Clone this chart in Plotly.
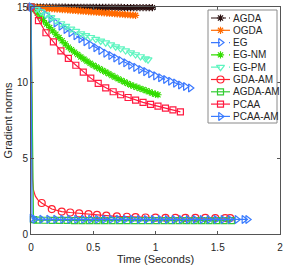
import plotly.graph_objects as go

# ---------------- data ----------------
names = ["AGDA", "OGDA", "EG", "EG-NM", "EG-PM", "GDA-AM", "AGDA-AM", "PCAA", "PCAA-AM"]

t_agda = [0.000, 0.025, 0.050, 0.075, 0.100, 0.125, 0.150, 0.175, 0.200, 0.225,
          0.250, 0.275, 0.300, 0.325, 0.350, 0.375, 0.400, 0.425, 0.450, 0.475,
          0.500, 0.525, 0.550, 0.575, 0.600, 0.625, 0.650, 0.675, 0.700, 0.725,
          0.750, 0.775, 0.800, 0.825, 0.850, 0.875, 0.900, 0.925, 0.950, 0.975]
g_agda = [15.00, 15.00, 15.00, 15.00, 14.99, 14.99, 14.99, 14.99, 14.99, 14.99,
          14.99, 14.99, 14.98, 14.98, 14.98, 14.98, 14.98, 14.98, 14.98, 14.98,
          14.98, 14.97, 14.97, 14.97, 14.97, 14.97, 14.97, 14.97, 14.97, 14.97,
          14.96, 14.96, 14.96, 14.96, 14.96, 14.96, 14.96, 14.96, 14.96, 14.96]

t_ogda = [0.000, 0.021, 0.042, 0.063, 0.084, 0.105, 0.126, 0.147, 0.168, 0.189,
          0.210, 0.231, 0.252, 0.273, 0.294, 0.315, 0.336, 0.357, 0.378, 0.399,
          0.420, 0.441, 0.462, 0.483, 0.504, 0.525, 0.546, 0.567, 0.588, 0.609,
          0.630, 0.651, 0.672, 0.693, 0.714, 0.735, 0.756, 0.777, 0.798, 0.819, 0.840]
g_ogda = [15.00, 14.99, 14.97, 14.96, 14.94, 14.93, 14.92, 14.90, 14.89, 14.88,
          14.86, 14.85, 14.83, 14.82, 14.81, 14.79, 14.78, 14.77, 14.75, 14.74,
          14.72, 14.71, 14.70, 14.68, 14.67, 14.66, 14.64, 14.63, 14.61, 14.60,
          14.59, 14.57, 14.56, 14.55, 14.53, 14.52, 14.50, 14.49, 14.48, 14.46, 14.45]

t_eg = [0.00, 0.04, 0.08, 0.12, 0.16, 0.20, 0.24, 0.28, 0.32, 0.36, 0.40,
        0.44, 0.48, 0.52, 0.56, 0.60, 0.64, 0.68, 0.72, 0.76, 0.80, 0.84,
        0.88, 0.92, 0.96, 1.00, 1.04, 1.08, 1.12, 1.16, 1.20, 1.24, 1.28]
g_eg = [15.00, 14.88, 14.70, 14.47, 14.22, 13.95, 13.73, 13.51, 13.30, 13.10, 12.90,
        12.70, 12.50, 12.31, 12.13, 11.95, 11.79, 11.63, 11.47, 11.31, 11.15, 11.01,
        10.87, 10.73, 10.59, 10.45, 10.33, 10.21, 10.09, 9.97, 9.85, 9.75, 9.65]

t_egnm = [0.000, 0.025, 0.050, 0.075, 0.100, 0.125, 0.150, 0.175, 0.200, 0.225,
          0.250, 0.275, 0.300, 0.325, 0.350, 0.375, 0.400, 0.425, 0.450, 0.475,
          0.500, 0.525, 0.550, 0.575, 0.600, 0.625, 0.650, 0.675, 0.700, 0.725,
          0.750, 0.775, 0.800, 0.825, 0.850, 0.875, 0.900, 0.925, 0.950, 0.975,
          1.000, 1.020]
g_egnm = [15.00, 14.82, 14.60, 14.35, 14.10, 13.87, 13.64, 13.42, 13.20, 12.98,
          12.77, 12.56, 12.35, 12.18, 12.02, 11.86, 11.70, 11.56, 11.42, 11.28,
          11.15, 11.04, 10.92, 10.81, 10.70, 10.59, 10.47, 10.36, 10.25, 10.15,
          10.05, 9.95, 9.85, 9.77, 9.70, 9.62, 9.55, 9.47, 9.39, 9.31,
          9.24, 9.20]

t_egpm = [0.00, 0.04, 0.08, 0.12, 0.16, 0.20, 0.24, 0.28, 0.32, 0.36, 0.40,
          0.44, 0.48, 0.52, 0.56, 0.60, 0.64, 0.68, 0.72, 0.76, 0.80, 0.84,
          0.88, 0.92, 0.94]
g_egpm = [15.00, 14.86, 14.69, 14.50, 14.31, 14.10, 13.91, 13.73, 13.56, 13.40, 13.25,
          13.12, 13.00, 12.88, 12.76, 12.64, 12.51, 12.38, 12.25, 12.12, 11.99, 11.86,
          11.73, 11.59, 11.52]

t_gdaam = [0.000, 0.004, 0.008, 0.012, 0.020, 0.035, 0.055, 0.086, 0.167, 0.247,
           0.315, 0.387, 0.462, 0.530, 0.605, 0.690, 0.770, 0.840, 0.920, 1.000,
           1.080, 1.160, 1.240, 1.320, 1.400, 1.480, 1.560, 1.600]
g_gdaam = [15.00, 9.50, 5.50, 3.60, 2.90, 2.50, 2.25, 2.05, 1.65, 1.48,
           1.42, 1.36, 1.31, 1.26, 1.22, 1.17, 1.14, 1.11, 1.09, 1.08,
           1.07, 1.07, 1.06, 1.06, 1.06, 1.05, 1.05, 1.05]
shown_gdaam = [1, 0, 0, 0, 0, 0, 0, 1, 1, 1,
               1, 1, 1, 1, 1, 1, 1, 1, 1, 1,
               1, 1, 1, 1, 1, 1, 1, 1]

t_agdaam = [0.00, 0.02, 0.05, 0.11, 0.17, 0.23, 0.29, 0.35, 0.41, 0.47, 0.53,
            0.59, 0.65, 0.71, 0.77, 0.83, 0.89, 0.95, 1.01, 1.07, 1.13, 1.19,
            1.25, 1.31, 1.37, 1.43, 1.49, 1.55, 1.61]
g_agdaam = [15.00, 0.95, 0.92, 0.91, 0.90, 0.90, 0.90, 0.89, 0.89, 0.89, 0.89,
            0.89, 0.89, 0.88, 0.88, 0.88, 0.88, 0.88, 0.88, 0.88, 0.88, 0.88,
            0.88, 0.88, 0.88, 0.88, 0.88, 0.88, 0.88]

t_pcaa = [0.00, 0.06, 0.12, 0.18, 0.24, 0.30, 0.36, 0.42, 0.48, 0.54, 0.60,
          0.66, 0.72, 0.78, 0.84, 0.90, 0.96, 1.02, 1.08, 1.14, 1.20]
g_pcaa = [15.00, 14.10, 13.30, 12.70, 12.10, 11.60, 11.15, 10.70, 10.30, 9.95, 9.65,
          9.40, 9.20, 9.02, 8.85, 8.70, 8.57, 8.45, 8.32, 8.20, 8.07]

t_pcaaam = [0.000, 0.008, 0.030, 0.086, 0.142, 0.198, 0.254, 0.310, 0.366, 0.422,
            0.478, 0.534, 0.590, 0.646, 0.702, 0.758, 0.814, 0.870, 0.926, 0.982,
            1.038, 1.094, 1.150, 1.206, 1.262, 1.318, 1.374, 1.430, 1.486, 1.542,
            1.598, 1.654, 1.710, 1.740]
g_pcaaam = [15.00, 1.05, 0.98, 0.97, 0.97, 0.97, 0.97, 0.97, 0.97, 0.97,
            0.97, 0.97, 0.97, 0.97, 0.97, 0.97, 0.97, 0.96, 0.96, 0.96,
            0.96, 0.96, 0.96, 0.96, 0.96, 0.96, 0.96, 0.96, 0.96, 0.96,
            0.96, 0.96, 0.96, 0.96]

x_ticks = [0, 0.5, 1, 1.5, 2]
x_ticktext = ["0", "0.5", "1", "1.5", "2"]
y_ticks = [0, 5, 10, 15]

# ---------------- styles ----------------
styles = {
    "AGDA":    dict(color="#2a1010", dash="dashdot", symbol="asterisk-open", size=6),
    "OGDA":    dict(color="#ff6a00", dash="solid",   symbol="asterisk-open", size=6),
    "EG":      dict(color="#3a78ff", dash="dash",    symbol="triangle-right-open", size=7),
    "EG-NM":   dict(color="#33dd00", dash="dash",    symbol="asterisk-open", size=6),
    "EG-PM":   dict(color="#5ff5c0", dash="dash",    symbol="triangle-down-open", size=7),
    "GDA-AM":  dict(color="#ff2030", dash="solid",   symbol="circle-open", size=7),
    "AGDA-AM": dict(color="#33cc33", dash="solid",   symbol="square-open", size=6),
    "PCAA":    dict(color="#ff1a40", dash="solid",   symbol="square-open", size=6),
    "PCAA-AM": dict(color="#3a7cff", dash="solid",   symbol="triangle-right-open", size=7),
}

series = {
    "AGDA": (t_agda, g_agda, None),
    "OGDA": (t_ogda, g_ogda, None),
    "EG": (t_eg, g_eg, None),
    "EG-NM": (t_egnm, g_egnm, None),
    "EG-PM": (t_egpm, g_egpm, None),
    "GDA-AM": (t_gdaam, g_gdaam, shown_gdaam),
    "AGDA-AM": (t_agdaam, g_agdaam, None),
    "PCAA": (t_pcaa, g_pcaa, None),
    "PCAA-AM": (t_pcaaam, g_pcaaam, None),
}

FONT = "Liberation Sans, Arial, Helvetica, sans-serif"
TXT = "#262626"
AX = "#555555"

fig = go.Figure()
for nm in names:
    t, g, shown = series[nm]
    st = styles[nm]
    fig.add_trace(go.Scatter(
        x=t, y=g, name=nm, mode="lines+markers", showlegend=False,
        cliponaxis=False,
        line=dict(color=st["color"], width=1.2, dash=st["dash"]),
        marker=dict(symbol=st["symbol"], size=st["size"], color=st["color"],
                    opacity=shown if shown is not None else 1,
                    line=dict(width=1.2, color=st["color"])),
    ))

# ---------------- custom compact legend (own small axes) ----------------
leg_w, leg_h = 69, 113
row_top, row_gap = 8, 12.3
for i, nm in enumerate(names):
    st = styles[nm]
    ry = row_top + i * row_gap
    fig.add_trace(go.Scatter(
        x=[3, 12.5, 22], y=[ry, ry, ry], xaxis="x2", yaxis="y2",
        mode="lines+markers", showlegend=False, hoverinfo="skip", cliponaxis=False,
        line=dict(color=st["color"], width=1.2, dash=st["dash"]),
        marker=dict(symbol=st["symbol"], size=st["size"], color=st["color"],
                    opacity=[0, 1, 0], line=dict(width=1.2, color=st["color"])),
    ))
    fig.add_annotation(x=24.5, y=ry, xref="x2", yref="y2", text=nm, showarrow=False,
                       xanchor="left", yanchor="middle", xshift=-2,
                       font=dict(family=FONT, size=10, color=TXT))

fig.add_shape(type="rect", xref="x2 domain", yref="y2 domain", x0=0, x1=1, y0=0, y1=1,
              line=dict(color="#8a8a8a", width=1), layer="above")

W, H = 287, 268
ml, mr, mt, mb = 31, 7, 7, 34
fig.update_layout(
    width=W, height=H,
    margin=dict(l=ml, r=mr, t=mt, b=mb, autoexpand=False),
    paper_bgcolor="white", plot_bgcolor="white",
    font=dict(family=FONT, size=10, color=TXT),
    xaxis=dict(range=[0, 2], tickvals=x_ticks, ticktext=x_ticktext, automargin=False,
               ticks="inside", ticklen=3, tickcolor=AX, showline=True, linecolor=AX,
               linewidth=1, mirror="ticks", showgrid=False, zeroline=False,
               ticklabelstandoff=4,
               title=dict(text="Time (Seconds)", standoff=3, font=dict(size=11, color=TXT)),
               tickfont=dict(size=10, color=TXT)),
    yaxis=dict(range=[0, 15], tickvals=y_ticks, automargin=False,
               ticks="inside", ticklen=3, tickcolor=AX, showline=True, linecolor=AX,
               linewidth=1, mirror="ticks", showgrid=False, zeroline=False,
               title=dict(text="Gradient norms", standoff=2, font=dict(size=11, color=TXT)),
               tickfont=dict(size=10, color=TXT)),
    xaxis2=dict(domain=[(208 - ml) / (W - ml - mr), (277 - ml) / (W - ml - mr)],
                range=[0, leg_w], visible=False, anchor="y2", fixedrange=True),
    yaxis2=dict(domain=[(H - mb - 123) / (H - mt - mb), (H - mb - 10) / (H - mt - mb)],
                range=[leg_h, 0], visible=False, anchor="x2", fixedrange=True),
)

fig.write_html("out.html", config={"displayModeBar": False, "staticPlot": True},
               post_script="document.body.style.margin='0';document.body.style.overflow='hidden';")
